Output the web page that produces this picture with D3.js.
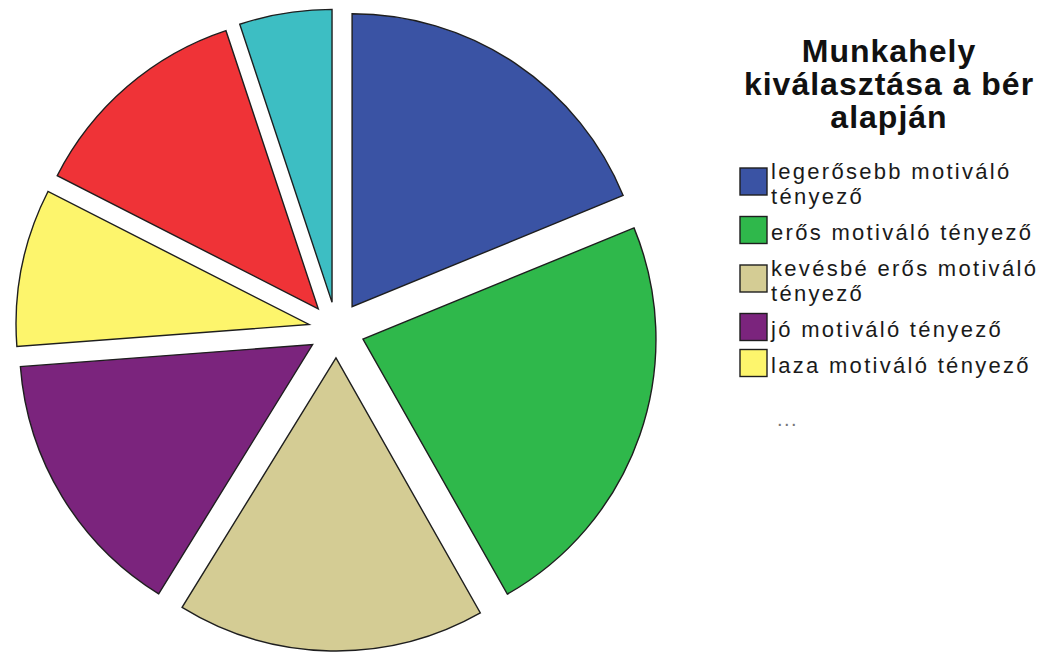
<!DOCTYPE html>
<html>
<head>
<meta charset="utf-8">
<script src="https://cdn.jsdelivr.net/npm/d3@7"></script>
<style>
  html, body { margin: 0; padding: 0; background: #fff; }
  svg { display: block; }
</style>
</head>
<body>
<svg id="chart" width="1047" height="653"></svg>
<script>
// Share of answers per category (%), clockwise from 12 o'clock
const categories = [
  "legerősebb motiváló tényező",
  "erős motiváló tényező",
  "kevésbé erős motiváló tényező",
  "jó motiváló tényező",
  "laza motiváló tényező",
  "gyenge motiváló tényező",
  "nem motiváló tényező"
];
const values = [18.8, 23.0, 17.0, 15.0, 8.7, 12.4, 5.1];
const colors = ["#3a53a4", "#2fb84b", "#d4cc94", "#7b247d", "#fdf56c", "#ef3337", "#3dbec3"];

// Legend lists the first five entries, then an ellipsis
const legendTitle = ["Munkahely", "kiválasztása a bér", "alapján"];
const legendLines = [
  ["legerősebb motiváló", "tényező"],
  ["erős motiváló tényező"],
  ["kevésbé erős motiváló", "tényező"],
  ["jó motiváló tényező"],
  ["laza motiváló tényező"]
];
const legendMore = "...";

const svg = d3.select("#chart");

// ---- Exploded pie ----
const cx = 336.5, cy = 330, radius = 293, explode = 28;

const pie = d3.pie().sort(null).value(d => d)
  .startAngle(0).endAngle(2 * Math.PI);
const arc = d3.arc().innerRadius(0).outerRadius(radius);
const arcs = pie(values);

const pieG = svg.append("g").attr("transform", `translate(${cx},${cy})`);
pieG.selectAll("path")
  .data(arcs)
  .join("path")
  .attr("d", arc)
  .attr("fill", (d, i) => colors[i])
  .attr("stroke", "#1e1e1e")
  .attr("stroke-width", 1.4)
  .attr("stroke-linejoin", "miter")
  .attr("transform", d => {
    const mid = (d.startAngle + d.endAngle) / 2;
    return `translate(${explode * Math.sin(mid)},${-explode * Math.cos(mid)})`;
  });

// ---- Legend ----
const lg = svg.append("g");
const titleX = 889;
const title = lg.append("text")
  .attr("text-anchor", "middle")
  .attr("font-family", "Liberation Sans, Arial, sans-serif")
  .attr("font-weight", "bold")
  .attr("font-size", 32)
  .attr("letter-spacing", 1)
  .attr("fill", "#111");
title.selectAll("tspan")
  .data(legendTitle)
  .join("tspan")
  .attr("x", titleX)
  .attr("y", (d, i) => 62 + i * 33)
  .text(d => d);

const swX = 740, sw = 27, textX = 771, lineH = 25, itemGap = 11;
let rowTop = 161;
legendLines.forEach((lines, i) => {
  const blockH = lines.length * lineH;
  const center = rowTop + blockH / 2 - 4.5;
  const item = lg.append("g");
  item.append("rect")
    .attr("x", swX).attr("y", center - sw / 2)
    .attr("width", sw).attr("height", sw)
    .attr("fill", colors[i])
    .attr("stroke", "#1e1e1e").attr("stroke-width", 1.4);
  const y0 = rowTop;
  const label = item.append("text")
    .attr("font-family", "Liberation Sans, Arial, sans-serif")
    .attr("font-size", 22)
    .attr("letter-spacing", 2.3)
    .attr("fill", "#1a1a1a");
  label.selectAll("tspan")
    .data(lines)
    .join("tspan")
    .attr("x", textX)
    .attr("y", (d, j) => y0 + 18 + j * lineH)
    .text(d => d);
  rowTop += blockH + itemGap;
});

lg.append("text")
  .attr("x", 777).attr("y", rowTop + 35)
  .attr("font-family", "Liberation Sans, Arial, sans-serif")
  .attr("font-size", 20)
  .attr("letter-spacing", 1.5)
  .attr("fill", "#777")
  .text(legendMore);
</script>
</body>
</html>
